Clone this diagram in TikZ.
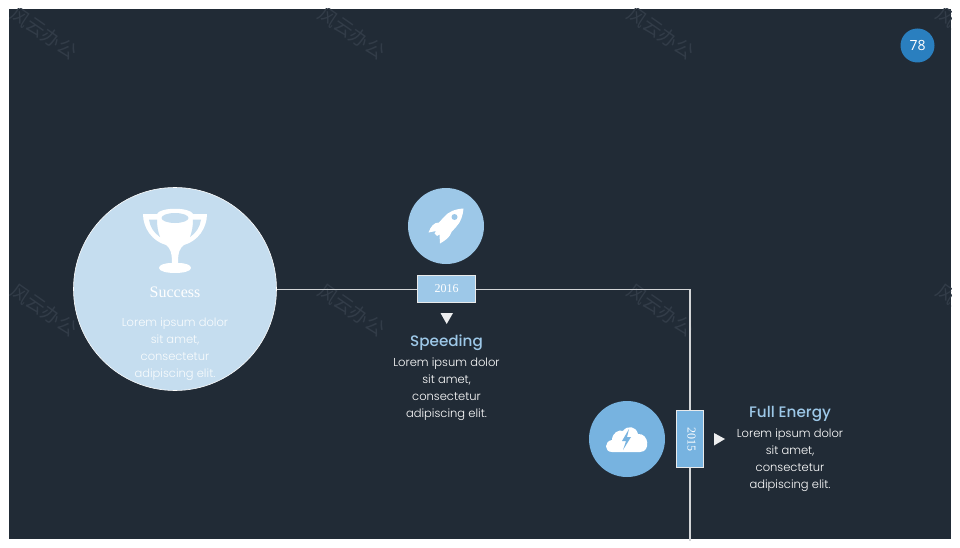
\documentclass[tikz,border=0pt]{standalone}
\usepackage{fontspec}
\setmainfont{Poppins Light}
\newfontfamily\headfont{Poppins Medium}
\newfontfamily\serifbody{Liberation Serif}
\newfontfamily\badgefont{Open Sans}
\newfontfamily\cjk{Noto Sans CJK SC}
\definecolor{bg}{HTML}{212B36}
\definecolor{paleblue}{HTML}{C5DDEF}
\definecolor{midblue}{HTML}{9DC8E8}
\definecolor{skyblue}{HTML}{77B3E0}
\definecolor{badgeblue}{HTML}{2A7FBF}
\definecolor{mark}{HTML}{323C48}
\tikzset{
  x=1pt,y=-1pt,
  disc/.style={circle,inner sep=0pt,minimum size=#1},
  yearbox/.style={draw=white!90!bg,line width=0.9pt,inner sep=0pt,text=white,font=\serifbody\fontsize{12}{12}\selectfont},
  bodytext/.style={align=center,text=white,font=\fontsize{11.5}{17}\selectfont},
  headtext/.style={text=midblue,font=\headfont\fontsize{15.2}{15.2}\selectfont},
  wm/.style={text=mark,rotate=-35,font=\cjk\fontsize{19}{19}\selectfont},
  linkline/.style={draw=white!80!bg,line width=1.1pt},
  pointer/.style={fill=white!92!bg,draw=none}
}
\begin{document}
\begin{tikzpicture}
\useasboundingbox (0,0) rectangle (960,548);
\fill[white] (0,0) rectangle (960,548);
\fill[bg] (9,9) rectangle (951,539);
% watermarks
\begin{scope}
\clip (9,9) rectangle (951,539);
\foreach \px/\py in {44/33,352/33,661/33,44/310,352/310,661/310,970/33,970/310}
  \node[wm] at (\px,\py) {风云办公};
\end{scope}
% nodes
\node[disc=203pt,fill=paleblue,draw=white,line width=0.6pt] (success) at (175,289) {};
\node[disc=76pt,fill=midblue] (rocket) at (446,226) {};
\node[disc=76pt,fill=skyblue] (cloud) at (627,439) {};
\node[disc=34pt,fill=badgeblue,text=white,font=\badgefont\fontsize{14}{14}\selectfont] (badge) at (917.5,45.5) {78};
\node[yearbox,fill=midblue,minimum width=58pt,minimum height=27pt] (y2016) at (446.5,289) {2016};
\node[yearbox,fill=skyblue,minimum width=27pt,minimum height=57pt] (y2015) at (690,439) {\hspace{3pt}\rotatebox{-90}{2015}};
\coordinate (corner) at (690,289.5);
\coordinate (bottom) at (690,541);
% connectors
\draw[linkline] (success.east |- corner) -- (y2016.west |- corner);
\draw[linkline] (y2016.east |- corner) -- (corner) -- (y2015);
\draw[linkline] (y2015) -- (bottom);
% trophy
\fill[white] (143,214) -- (157,214) .. controls (160,207) and (190,207) .. (193,214) -- (207,214)
  .. controls (207,228) and (198,241) .. (184,245)
  .. controls (180,248) and (178,252) .. (178,262) -- (178,263)
  .. controls (186,263) and (191,265) .. (191,268)
  .. controls (191,271) and (184,273) .. (175,273)
  .. controls (166,273) and (159,271) .. (159,268)
  .. controls (159,265) and (164,263) .. (172,263)
  .. controls (172,252) and (170,248) .. (166,245)
  .. controls (152,241) and (143,228) .. cycle;
\fill[paleblue] (175,218) ellipse [x radius=13.5,y radius=5];
\fill[paleblue] (149,219.5) -- (157,219.5) .. controls (157,226) and (158,232) .. (160,237) .. controls (154,233) and (150,227) .. cycle;
\fill[paleblue] (201,219.5) -- (193,219.5) .. controls (193,226) and (192,232) .. (190,237) .. controls (196,233) and (200,227) .. cycle;
% rocket
\fill[white] (463.5,208.5) .. controls (455,209) and (448,212) .. (444,217)
  -- (439,222.5) .. controls (434,222.5) and (431,226) .. (428.5,232.5)
  -- (436,231) -- (434.5,233.5) -- (437,236) -- (439.5,234.5) -- (440,243.5)
  .. controls (446,240) and (450,237) .. (451.5,232) -- (456,227)
  .. controls (461,222) and (463,215) .. cycle;
\fill[midblue] (454.5,217) circle (3);
% cloud
\fill[white] (612,452) .. controls (604,452) and (604,441) .. (612,440)
  .. controls (612,433) and (619,429) .. (623,431)
  .. controls (627,425) and (636,426) .. (638,434)
  .. controls (649,433) and (651,452) .. (640,452) -- cycle;
\fill[skyblue] (629,429) -- (622,441) -- (626,441) -- (623,450) -- (631,437) -- (627,437) -- cycle;
% pointers
\fill[pointer] (440.5,313) -- (453,313) -- (446.7,324) -- cycle;
\fill[pointer] (714,433) -- (725,439) -- (714,445.5) -- cycle;
% text
\node[text=white,font=\serifbody\fontsize{16}{16}\selectfont] (successlabel) at (175,292) {Success};
\node[bodytext,text=white!90!paleblue] (successbody) at (175,349.5) {Lorem ipsum dolor\\sit amet,\\consectetur\\adipiscing elit.};
\node[headtext] (speedinghead) at (446.5,343) {Speeding};
\node[bodytext] (speedingbody) at (446.5,389.5) {Lorem ipsum dolor\\sit amet,\\consectetur\\adipiscing elit.};
\node[headtext] (energyhead) at (790,414) {Full Energy};
\node[bodytext] (energybody) at (790,460.5) {Lorem ipsum dolor\\sit amet,\\consectetur\\adipiscing elit.};
\end{tikzpicture}
\end{document}
